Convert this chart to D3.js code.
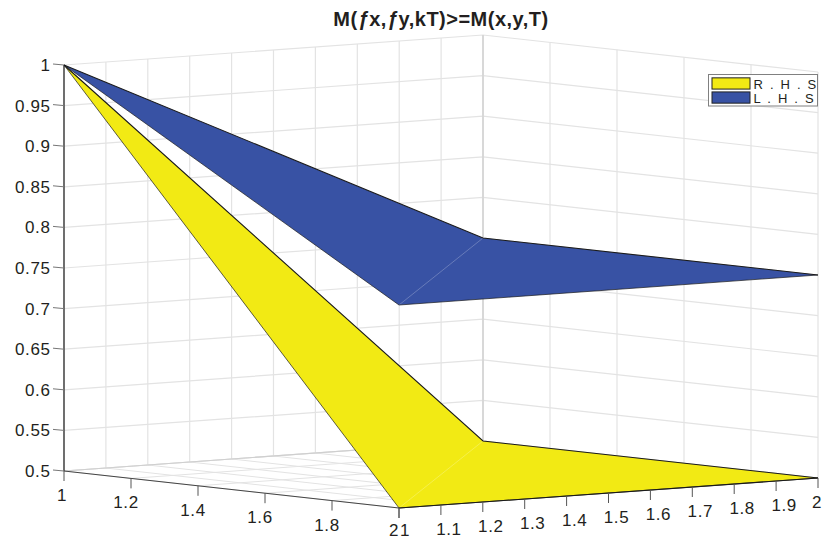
<!DOCTYPE html>
<html lang="en">
  <head>
    <meta charset="utf-8">
    <title>M(fx,fy,kT)>=M(x,y,T)</title>
    <script src="https://d3js.org/d3.v7.min.js"></script>
    <style type="text/css">
      body,html{
        margin: 0;
        padding: 0;
        background: #fff;
      }
      svg{
        display: block;
      }
      text{
        font-family: "Liberation Sans", Arial, sans-serif;
        fill: #231f20;
      }
    </style>
  </head>
  <body>
    <script type="text/javascript">
      const xGrid = [1, 2];
      const yGrid = [1, 2];
      // rows are x, columns are y
      const zRhs = [[1, 0.5], [0.5, 0.5]];
      const zLhs = [[1, 0.75], [0.75, 0.75]];

      const xTicks = [1, 1.2, 1.4, 1.6, 1.8, 2];
      const yTicks = [1, 1.1, 1.2, 1.3, 1.4, 1.5, 1.6, 1.7, 1.8, 1.9, 2];
      const zTicks = [0.5, 0.55, 0.6, 0.65, 0.7, 0.75, 0.8, 0.85, 0.9, 0.95, 1];
      const legendLabels = ["R . H . S", "L . H . S"];
      const surfaceColors = ["#f2ea14", "#3852a4"];

      const w = 822;
      const h = 540;

      // the plot box is a fixed oblique view, so each data axis gets
      // one scale for its screen x and one for its screen y
      const xToLeft = d3.scaleLinear().domain([1, 2]).range([64, 399]);
      const xToTop = d3.scaleLinear().domain([1, 2]).range([471, 508]);
      const yToLeft = d3.scaleLinear().domain([1, 2]).range([0, 419]);
      const yToTop = d3.scaleLinear().domain([1, 2]).range([0, -30]);
      const zToTop = d3.scaleLinear().domain([0.5, 1]).range([0, -406]);

      const project = function(x, y, z) {
        return [xToLeft(x) + yToLeft(y), xToTop(x) + yToTop(y) + zToTop(z)];
      };

      const line = d3.line();

      const svg = d3.select("body")
        .append("svg")
        .attr("width", w)
        .attr("height", h);

      const addLines = function(cls, rows, color, width) {
        svg.append("g")
          .attr("class", cls)
          .selectAll("path")
          .data(rows)
          .enter()
          .append("path")
          .attr("d", d => line(d))
          .attr("fill", "none")
          .attr("stroke", color)
          .attr("stroke-width", width);
      };

      const gridColor = "#e3e3e3";

      // back walls
      addLines("grid", zTicks.map(z => [project(1, 1, z), project(1, 2, z), project(2, 2, z)]), gridColor, 1.2);
      addLines("grid", yTicks.map(y => [project(1, y, 0.5), project(1, y, 1)]), gridColor, 1.2);
      addLines("grid", xTicks.map(x => [project(x, 2, 0.5), project(x, 2, 1)]), gridColor, 1.2);
      // floor
      addLines("grid", yTicks.map(y => [project(1, y, 0.5), project(2, y, 0.5)]), gridColor, 1);
      addLines("grid", xTicks.map(x => [project(x, 1, 0.5), project(x, 2, 0.5)]), gridColor, 1);
      addLines("grid", [[project(1, 1, 0.5), project(1, 2, 0.5)], [project(1, 2, 0.5), project(1, 2, 1)]], "#cfcfcf", 1.2);

      // surfaces
      const drawSurface = function(zs, color) {
        const a = project(xGrid[0], yGrid[0], zs[0][0]);
        const b = project(xGrid[0], yGrid[1], zs[0][1]);
        const c = project(xGrid[1], yGrid[1], zs[1][1]);
        const d = project(xGrid[1], yGrid[0], zs[1][0]);
        const g = svg.append("g").attr("class", "surface");
        g.append("path")
          .attr("d", line([a, b, c, d]) + "Z")
          .attr("fill", color)
          .attr("stroke", "none");
        // mesh diagonal shows up only faintly
        g.append("path")
          .attr("d", line([d, b]))
          .attr("stroke", "#fff")
          .attr("stroke-opacity", 0.3)
          .attr("stroke-width", 0.8);
        g.append("path")
          .attr("d", line([a, b, c]))
          .attr("fill", "none")
          .attr("stroke", "#1a1a1a")
          .attr("stroke-width", 1.1);
        g.append("path")
          .attr("d", line([a, d, c]))
          .attr("fill", "none")
          .attr("stroke", "#1a1a1a")
          .attr("stroke-width", 0.7);
      };
      drawSurface(zRhs, surfaceColors[0]);
      drawSurface(zLhs, surfaceColors[1]);

      // axes
      addLines("axis", [[project(1, 1, 1), project(1, 1, 0.5)]], "#1a1a1a", 1.2);
      addLines("axis", [[project(1, 1, 0.5), project(2, 1, 0.5)]], "#444", 1);
      addLines("axis", [[project(2, 1, 0.5), project(2, 2, 0.5)]], "#1a1a1a", 1.1);

      const offset = function(p, dx, dy) {
        return [p[0] + dx, p[1] + dy];
      };

      addLines("tick", zTicks.map(z => [project(1, 1, z), offset(project(1, 1, z), -11, -1)]), "#777", 1);
      addLines("tick", xTicks.map(x => [project(x, 1, 0.5), offset(project(x, 1, 0.5), 0, 10)]), "#555", 1);
      addLines("tick", yTicks.map(y => [project(2, y, 0.5), offset(project(2, y, 0.5), 0, 10)]), "#555", 1);

      const fmt = d => String(d);
      const labelSize = "17px";
      const labelSpacing = "0.6px";

      svg.append("g")
        .selectAll("text")
        .data(zTicks)
        .enter()
        .append("text")
        .attr("x", 50.5)
        .attr("y", d => project(1, 1, d)[1] + 6)
        .attr("text-anchor", "end")
        .attr("font-size", labelSize)
        .attr("letter-spacing", labelSpacing)
        .text(fmt);

      svg.append("g")
        .selectAll("text")
        .data(xTicks)
        .enter()
        .append("text")
        .attr("x", d => {
          const p = project(d, 1, 0.5)[0];
          return d === 1 ? p - 2 : p - 5;
        })
        // the "2" sits at the very bottom of the page, lift it to stay inside
        .attr("y", d => project(d, 1, 0.5)[1] + (d === 2 ? 28 : 30))
        .attr("text-anchor", "middle")
        .attr("font-size", labelSize)
        .attr("letter-spacing", labelSpacing)
        .text(fmt);

      svg.append("g")
        .selectAll("text")
        .data(yTicks)
        .enter()
        .append("text")
        .attr("x", d => {
          const p = project(2, d, 0.5)[0];
          if (d === 1) return p + 6;
          if (d === 2) return p - 1;
          return p + 8;
        })
        .attr("y", d => project(2, d, 0.5)[1] + (d === 1 ? 28 : 30))
        .attr("text-anchor", "middle")
        .attr("font-size", labelSize)
        .attr("letter-spacing", labelSpacing)
        .text(fmt);

      // title
      const title = svg.append("text")
        .attr("x", 441)
        .attr("y", 26)
        .attr("text-anchor", "middle")
        .attr("font-size", "20px")
        .attr("letter-spacing", "0.5px")
        .attr("font-weight", "bold");
      title.append("tspan").text("M(");
      title.append("tspan").attr("font-style", "italic").text("ƒ");
      title.append("tspan").text("x,");
      title.append("tspan").attr("font-style", "italic").text("ƒ");
      title.append("tspan").text("y,kT)>=M(x,y,T)");

      // legend
      const legend = svg.append("g").attr("class", "legend");
      legend.append("rect")
        .attr("x", 708.5)
        .attr("y", 74.5)
        .attr("width", 109)
        .attr("height", 31.5)
        .attr("fill", "#fff")
        .attr("stroke", "#808080")
        .attr("stroke-width", 1);

      const legendRow = d3.scaleBand()
        .domain(legendLabels)
        .range([76, 105])
        .padding(0.06);

      legend.selectAll("rect.key")
        .data(legendLabels)
        .enter()
        .append("rect")
        .attr("class", "key")
        .attr("x", 712)
        .attr("y", d => legendRow(d) + 1)
        .attr("width", 38)
        .attr("height", legendRow.bandwidth() - 2)
        .attr("fill", (d, i) => surfaceColors[i])
        .attr("stroke", "#222")
        .attr("stroke-width", 1);

      legend.selectAll("text")
        .data(legendLabels)
        .enter()
        .append("text")
        .attr("x", 753.5)
        .attr("y", d => legendRow(d) + 12)
        .attr("font-size", "13px")
        .attr("letter-spacing", "1.7px")
        .attr("fill", "#222")
        .text(d => d);
    </script>
  </body>
</html>
